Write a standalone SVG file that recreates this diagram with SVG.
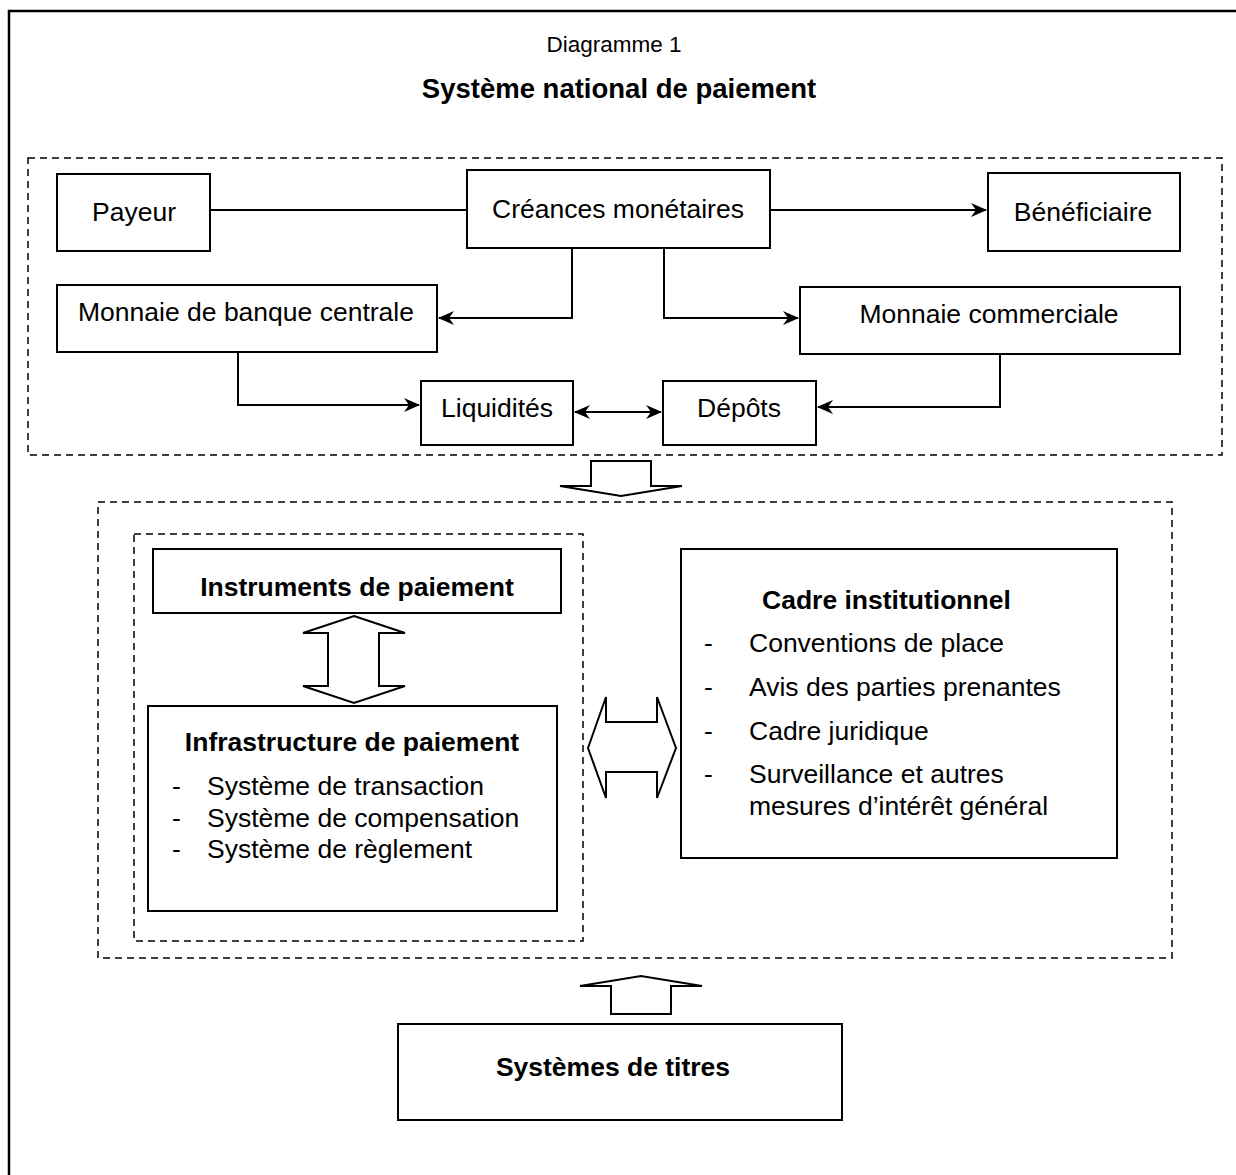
<svg xmlns="http://www.w3.org/2000/svg" width="1236" height="1175" viewBox="0 0 1236 1175">
<style>
.box{fill:#fff;stroke:#000;stroke-width:2}
.dash{fill:none;stroke:#000;stroke-width:1.5;stroke-dasharray:7,5}
.t{font-family:"Liberation Sans",Arial,sans-serif;font-size:26.5px;fill:#000}
.b{font-family:"Liberation Sans",Arial,sans-serif;font-size:26.5px;font-weight:bold;fill:#000}
.m{text-anchor:middle}
.c{fill:none;stroke:#000;stroke-width:2}
.fat{fill:#fff;stroke:#000;stroke-width:2;stroke-linejoin:miter}
</style>
<defs>
<marker id="ah" viewBox="0 0 16 14" refX="15" refY="7" markerWidth="16" markerHeight="14" markerUnits="userSpaceOnUse" orient="auto-start-reverse">
<path d="M0,0 L16,7 L0,14 L5,7 z" fill="#000"/>
</marker>
</defs>
<rect x="9" y="11" width="1240" height="1180" fill="#fff" stroke="#000" stroke-width="2.5"/>
<g id="title">
<text class="t m" x="614" y="52" style="font-size:22.5px">Diagramme 1</text>
<text class="b m" x="619" y="98" style="font-size:27.5px">Système national de paiement</text>
</g>
<g id="frames">
<rect class="dash" x="28" y="158" width="1194" height="297"/>
<rect class="dash" x="98" y="502" width="1074" height="456"/>
<rect class="dash" x="134" y="534" width="449" height="407"/>
</g>
<g id="connectors">
<path class="c" d="M210,210 H467"/>
<path class="c" d="M770,210 H986" marker-end="url(#ah)"/>
<path class="c" d="M572,248 V318 H439" marker-end="url(#ah)"/>
<path class="c" d="M664,248 V318 H798" marker-end="url(#ah)"/>
<path class="c" d="M238,352 V405 H419" marker-end="url(#ah)"/>
<path class="c" d="M1000,354 V407 H818" marker-end="url(#ah)"/>
<path class="c" d="M575,412 H661" marker-start="url(#ah)" marker-end="url(#ah)"/>
<polygon class="fat" points="591,461 651,461 651,486 682,486 621,496 560,486 591,486"/>
<polygon class="fat" points="354,616 405,633 379,633 379,686 405,686 354,703 303,686 328,686 328,633 303,633"/>
<polygon class="fat" points="588,748 606,697 606,722 657,722 657,697 676,748 657,798 657,772 606,772 606,798"/>
<polygon class="fat" points="611,1014 671,1014 671,986 702,986 641,976 580,986 611,986"/>
</g>
<g id="payeur">
<rect class="box" x="57" y="174" width="153" height="77"/>
<text class="t m" x="134" y="221">Payeur</text>
</g>
<g id="creances">
<rect class="box" x="467" y="170" width="303" height="78"/>
<text class="t m" x="618" y="218">Créances monétaires</text>
</g>
<g id="beneficiaire">
<rect class="box" x="988" y="173" width="192" height="78"/>
<text class="t m" x="1083" y="221">Bénéficiaire</text>
</g>
<g id="mbc">
<rect class="box" x="57" y="285" width="380" height="67"/>
<text class="t m" x="246" y="321">Monnaie de banque centrale</text>
</g>
<g id="mc">
<rect class="box" x="800" y="287" width="380" height="67"/>
<text class="t m" x="989" y="323">Monnaie commerciale</text>
</g>
<g id="liquidites">
<rect class="box" x="421" y="381" width="152" height="64"/>
<text class="t m" x="497" y="417">Liquidités</text>
</g>
<g id="depots">
<rect class="box" x="663" y="381" width="153" height="64"/>
<text class="t m" x="739" y="417">Dépôts</text>
</g>
<g id="instruments">
<rect class="box" x="153" y="549" width="408" height="64"/>
<text class="b m" x="357" y="596">Instruments de paiement</text>
</g>
<g id="infrastructure">
<rect class="box" x="148" y="706" width="409" height="205"/>
<text class="b m" x="352" y="751">Infrastructure de paiement</text>
<text class="t" x="172" y="795">-</text><text class="t" x="207" y="795">Système de transaction</text>
<text class="t" x="172" y="827">-</text><text class="t" x="207" y="827">Système de compensation</text>
<text class="t" x="172" y="858">-</text><text class="t" x="207" y="858">Système de règlement</text>
</g>
<g id="cadre">
<rect class="box" x="681" y="549" width="436" height="309"/>
<text class="b" x="762" y="609">Cadre institutionnel</text>
<text class="t" x="704" y="652">-</text><text class="t" x="749" y="652">Conventions de place</text>
<text class="t" x="704" y="696">-</text><text class="t" x="749" y="696">Avis des parties prenantes</text>
<text class="t" x="704" y="740">-</text><text class="t" x="749" y="740">Cadre juridique</text>
<text class="t" x="704" y="783">-</text><text class="t" x="749" y="783">Surveillance et autres</text>
<text class="t" x="749" y="815">mesures d’intérêt général</text>
</g>
<g id="titres">
<rect class="box" x="398" y="1024" width="444" height="96"/>
<text class="b m" x="613" y="1076">Systèmes de titres</text>
</g>
</svg>
